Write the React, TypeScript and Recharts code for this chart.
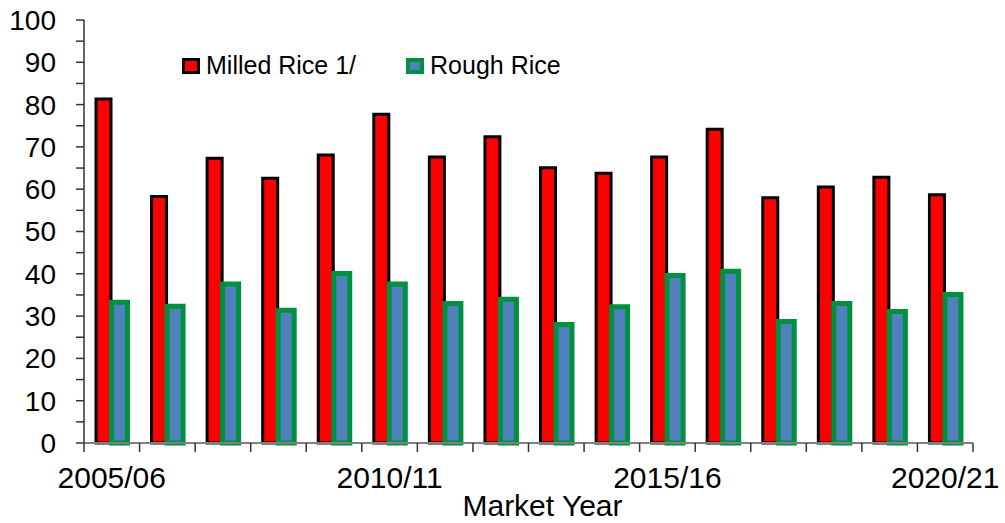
// @ts-nocheck
import React from 'react';
import { BarChart, Bar, XAxis, YAxis } from 'recharts';

const categories = [
  '2005/06', '2006/07', '2007/08', '2008/09', '2009/10', '2010/11', '2011/12', '2012/13',
  '2013/14', '2014/15', '2015/16', '2016/17', '2017/18', '2018/19', '2019/20', '2020/21'
];
const milledRice = [81.3, 58.3, 67.3, 62.6, 68.1, 77.7, 67.6, 72.4, 65.1, 63.8, 67.6, 74.2, 58.0, 60.5, 62.8, 58.7];
const roughRice = [33.3, 32.3, 37.6, 31.4, 40.1, 37.6, 33.0, 34.0, 28.0, 32.2, 39.6, 40.6, 28.7, 33.0, 31.1, 35.1];
const yTicks = [0, 5, 10, 15, 20, 25, 30, 35, 40, 45, 50, 55, 60, 65, 70, 75, 80, 85, 90, 95, 100];
const xTickLabels = ['2005/06', '2010/11', '2015/16', '2020/21'];
const seriesNames = ['Milled Rice 1/', 'Rough Rice'];

const data = categories.map((year, i) => ({
  year,
  milled: milledRice[i],
  rough: roughRice[i]
}));

const FONT = '"Liberation Sans", Arial, sans-serif';

// tick marks sit on category boundaries, labels only on every 5th year
function XTick(props) {
  const { x, y, payload } = props;
  const idx = payload.index;
  const half = payload.offset || 27.78;
  const isLast = idx === categories.length - 1;
  return (
    <g>
      <line x1={x - half} y1={y} x2={x - half} y2={y + 9} stroke="#333" strokeWidth={1.5} />
      {isLast && <line x1={x + half} y1={y} x2={x + half} y2={y + 9} stroke="#333" strokeWidth={1.5} />}
      {xTickLabels.includes(payload.value) && (
        <text x={x} y={y + 45} textAnchor="middle" fontSize={30} fontFamily={FONT} fill="#000">
          {payload.value}
        </text>
      )}
    </g>
  );
}

function Swatch({ fill, stroke, sw }) {
  return (
    <svg width={18} height={16} style={{ marginRight: 6 }}>
      <rect x={sw / 2} y={sw / 2} width={18 - sw} height={16 - sw} fill={fill} stroke={stroke} strokeWidth={sw} />
    </svg>
  );
}

export default function App() {
  return (
    <div style={{ position: 'fixed', left: 0, top: 0, width: 1005, height: 523, background: '#fff' }}>
      <BarChart
        width={1005}
        height={523}
        data={data}
        margin={{ top: 20, right: 32, bottom: 0, left: 0 }}
        barGap={0.5}
        barCategoryGap={0}
      >
        <XAxis
          dataKey="year"
          interval={0}
          tick={<XTick />}
          tickLine={false}
          tickSize={0}
          tickMargin={0}
          height={80}
          axisLine={{ stroke: '#808080', strokeWidth: 2 }}
          label={{ value: 'Market Year', position: 'insideBottom', offset: 7, dx: 14, fontSize: 30, fontFamily: FONT, fill: '#000' }}
        />
        <XAxis xAxisId="top" orientation="top" dataKey="year" height={0} tick={false} tickLine={false} axisLine={{ stroke: '#808080', strokeWidth: 2 }} />
        <YAxis
          domain={[0, 100]}
          ticks={yTicks}
          interval={0}
          width={84}
          tickSize={8}
          tickMargin={20}
          tickFormatter={(v) => (v % 10 === 0 ? String(v) : '')}
          tick={{ fontSize: 28, fontFamily: FONT, fill: '#000' }}
          tickLine={{ stroke: '#333', strokeWidth: 1.5 }}
          axisLine={{ stroke: '#666', strokeWidth: 2 }}
        />
        <YAxis yAxisId="right" orientation="right" width={0} tick={false} tickLine={false} axisLine={{ stroke: '#808080', strokeWidth: 3 }} />
        <Bar dataKey="milled" name={seriesNames[0]} barSize={15} fill="#FF0000" stroke="#000" strokeWidth={3} isAnimationActive={false} />
        <Bar dataKey="rough" name={seriesNames[1]} barSize={16} fill="#4F81BD" stroke="#00913F" strokeWidth={5} isAnimationActive={false} />
      </BarChart>
      <div style={{ position: 'absolute', left: 182, top: 51, display: 'flex', alignItems: 'center', fontFamily: FONT, fontSize: 25, color: '#000' }}>
        <Swatch fill="#FF0000" stroke="#000" sw={3} />
        <span style={{ marginRight: 50 }}>{seriesNames[0]}</span>
        <Swatch fill="#4F81BD" stroke="#00913F" sw={4} />
        <span>{seriesNames[1]}</span>
      </div>
    </div>
  );
}
